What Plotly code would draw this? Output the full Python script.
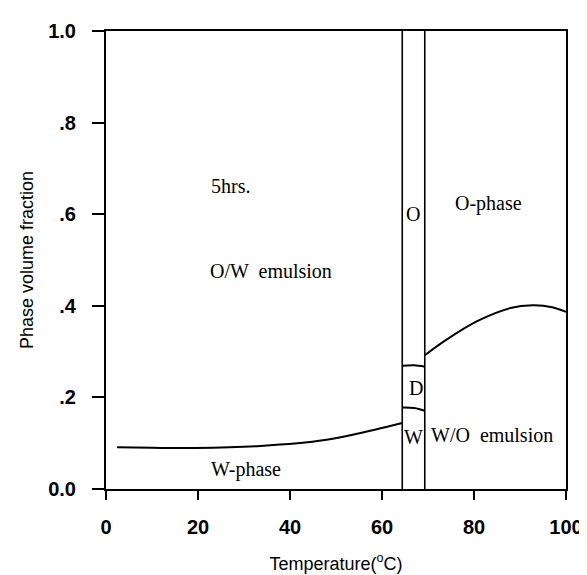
import plotly.graph_objects as go

# Phase boundaries (temperature, °C)
t_low = 64.4
t_high = 69.3

# W-phase / O-W emulsion boundary
w_x = [2.4, 10, 19.4, 33.5, 47.6, 58.2, 64.4]
w_y = [0.091, 0.090, 0.0896, 0.094, 0.107, 0.129, 0.144]

# W / D boundary in the three-phase region
wd_x = [64.4, 67.0, 69.3]
wd_y = [0.178, 0.177, 0.171]

# D / O boundary in the three-phase region
do_x = [64.4, 67.0, 69.3]
do_y = [0.269, 0.270, 0.267]

# W/O emulsion / O-phase boundary
o_x = [69.3, 73.7, 80.8, 87.9, 92.8, 97.0, 100.0]
o_y = [0.292, 0.324, 0.367, 0.395, 0.401, 0.397, 0.387]

# Region labels
lab_text = ["5hrs.", "O/W  emulsion", "O-phase", "O", "D", "W", "W/O  emulsion", "W-phase"]
lab_x = [22.4, 35.9, 83.2, 66.8, 67.3, 66.8, 84.0, 30.5]
lab_y = [0.662, 0.475, 0.623, 0.600, 0.221, 0.114, 0.118, 0.043]
lab_anchor = ["left", "center", "center", "center", "center", "center", "center", "center"]

x_ticks = [0, 20, 40, 60, 80, 100]
y_ticks = [0.0, 0.2, 0.4, 0.6, 0.8, 1.0]
y_tick_text = ["0.0", ".2", ".4", ".6", ".8", "1.0"]

fig = go.Figure()
line = dict(color="black", width=2)
fig.add_trace(go.Scatter(x=w_x, y=w_y, mode="lines", line=dict(shape="spline", **line)))
fig.add_trace(go.Scatter(x=wd_x, y=wd_y, mode="lines", line=dict(shape="spline", **line)))
fig.add_trace(go.Scatter(x=do_x, y=do_y, mode="lines", line=dict(shape="spline", **line)))
fig.add_trace(go.Scatter(x=o_x, y=o_y, mode="lines", line=dict(shape="spline", **line)))
for t in (t_low, t_high):
    fig.add_trace(go.Scatter(x=[t, t], y=[0, 1], mode="lines", line=dict(color="black", width=1.6)))

for txt, x, y, a in zip(lab_text, lab_x, lab_y, lab_anchor):
    fig.add_annotation(x=x, y=y, text=txt, showarrow=False, xanchor=a, yanchor="middle",
                       font=dict(family="Liberation Serif", size=20, color="black"))

fig.update_layout(
    width=587, height=575,
    margin=dict(l=98, r=17, t=13, b=93),
    paper_bgcolor="white", plot_bgcolor="white",
    showlegend=False,
)
fig.update_xaxes(
    range=[0, 100], tickvals=x_ticks, ticks="outside", ticklen=9, tickwidth=2, tickcolor="black",
    showline=True, linewidth=2, linecolor="black", mirror=True, showgrid=False, zeroline=False,
    tickfont=dict(family="Liberation Sans", size=20, color="black", weight="bold"),
    ticklabelstandoff=10,
    title=dict(text="Temperature(<sup>o</sup>C)", font=dict(family="Liberation Sans", size=18, color="black"), standoff=20),
)
fig.update_yaxes(
    range=[0, 1], tickvals=y_ticks, ticktext=y_tick_text, ticks="outside", ticklen=12, tickwidth=2, tickcolor="black",
    showline=True, linewidth=2, linecolor="black", mirror=True, showgrid=False, zeroline=False,
    tickfont=dict(family="Liberation Sans", size=20, color="black", weight="bold"),
    ticklabelstandoff=12,
    title=dict(text="Phase volume fraction", font=dict(family="Liberation Sans", size=18, color="black"), standoff=10),
)
fig.write_html("out.html")
